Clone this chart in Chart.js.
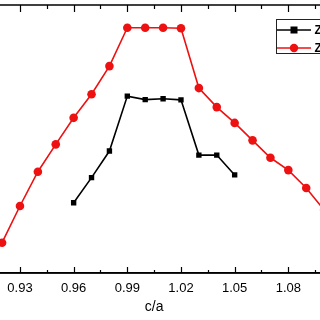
<!DOCTYPE html>
<html><head><meta charset="utf-8">
<script src="https://cdn.jsdelivr.net/npm/chart.js@4/dist/chart.umd.min.js"></script>
<style>html,body{margin:0;padding:0;background:#fff;overflow:hidden;width:320px;height:320px;}
#wrap{position:absolute;left:-80px;top:0;width:460px;height:320px;}
canvas{display:block;}</style>
</head><body>
<div id="wrap"><canvas id="c" width="460" height="320" style="width:460px;height:320px"></canvas></div>
<script>
const caBlack = [0.96,0.97,0.98,0.99,1.00,1.01,1.02,1.03,1.04,1.05];
const valBlack = [26.2,35.6,45.5,66.0,64.7,65.0,64.6,44.0,44.0,36.6];
const caRed = [0.92,0.93,0.94,0.95,0.96,0.97,0.98,0.99,1.00,1.01,1.02,1.03,1.04,1.05,1.06,1.07,1.08,1.09,1.10];
const valRed = [11.3,25.0,37.8,48.0,57.9,66.7,77.2,91.5,91.5,91.5,91.3,69.0,61.9,56.0,49.5,43.0,38.4,31.7,23.5];
const seriesLabels = ["Z1","Z2"];
const xTitle = "c/a";

const toPts = (xs, ys) => xs.map((x,i)=>({x:x,y:ys[i]}));

const frame = {
  id:'frame',
  afterDraw(chart){
    const ctx = chart.ctx, a = chart.chartArea, sx = chart.scales.x;
    ctx.save();
    ctx.strokeStyle='#000'; ctx.lineWidth=1.5;
    ctx.strokeRect(a.left, a.top, a.right-a.left, a.bottom-a.top);
    ctx.lineWidth=1.2;
    sx.ticks.forEach((t,i)=>{
      const px = Math.round(sx.getPixelForValue(t.value))+0.5;
      const major = i%2===0;
      ctx.beginPath();
      ctx.moveTo(px, a.bottom); ctx.lineTo(px, a.bottom-(major?6:3));
      ctx.moveTo(px, a.top); ctx.lineTo(px, a.top+(major?7:4));
      ctx.stroke();
    });
    // legend
    const lx = 80+276.5, ly = 19.5;
    ctx.lineWidth=1;
    ctx.strokeStyle='#222';
    ctx.strokeRect(lx, ly, 80, 34);
    const rows=[{y:30,c:'#000',sq:true},{y:48,c:'#ee1111',sq:false}];
    rows.forEach((r,k)=>{
      ctx.strokeStyle=r.c; ctx.fillStyle=r.c; ctx.lineWidth=1.6;
      ctx.beginPath(); ctx.moveTo(80+277,r.y); ctx.lineTo(80+311,r.y); ctx.stroke();
      if(r.sq){ctx.fillRect(80+294-3.5,r.y-3.5,7,7);} else {ctx.beginPath();ctx.arc(80+294,r.y,4.2,0,Math.PI*2);ctx.fill();}
      ctx.fillStyle='#000'; ctx.font='bold 12px "Liberation Sans", Arial, sans-serif';
      ctx.textBaseline='middle'; ctx.textAlign='left';
      ctx.fillText(seriesLabels[k], 80+314.5, r.y+1);
    });
    ctx.restore();
  }
};

new Chart(document.getElementById('c'), {
  type:'line',
  data:{datasets:[
    {label:seriesLabels[0], data:toPts(caBlack,valBlack), borderColor:'#000', backgroundColor:'#000', borderWidth:1.6, pointStyle:'rect', pointRadius:3.8, pointBorderWidth:0, tension:0},
    {label:seriesLabels[1], data:toPts(caRed,valRed), borderColor:'#ee1111', backgroundColor:'#ee1111', borderWidth:1.6, pointStyle:'circle', pointRadius:4.3, pointBorderWidth:0, tension:0}
  ]},
  options:{
    responsive:false, animation:false, devicePixelRatio:1,
    layout:{padding:{left:46.3,right:38,top:5,bottom:0}},
    plugins:{legend:{display:false}, tooltip:{enabled:false}},
    scales:{
      x:{type:'linear', min:0.90, max:1.11,
        afterFit(s){s.height=47;},
        grid:{display:true, drawOnChartArea:false, drawTicks:false},
        border:{display:true,color:'#000',width:1.5},
        ticks:{stepSize:0.015, padding:8, color:'#000', maxRotation:0, autoSkip:false,
          font:{family:'"Liberation Sans", Arial, sans-serif', size:13},
          callback:(v,i)=> i%2===0 ? Number(v).toFixed(2) : ''},
        title:{display:true, text:xTitle, color:'#000', font:{family:'"Liberation Sans", Arial, sans-serif', size:14}}
      },
      y:{type:'linear', min:0, max:100, display:false}
    }
  },
  plugins:[frame]
});
</script>
</body></html>
